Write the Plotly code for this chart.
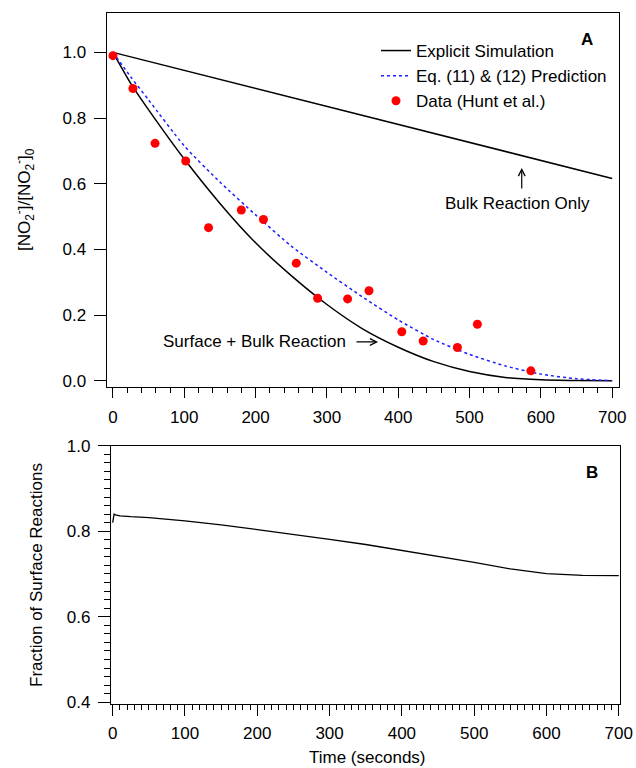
import plotly.graph_objects as go

# ---- Panel A: nitrite decay -------------------------------------------------
# Measured points (Hunt et al.)
data_time = [0, 28, 59, 102, 134, 180, 211, 257, 287, 329, 359, 405, 435, 483, 511, 586]
data_ratio = [0.99, 0.89, 0.723, 0.669, 0.466, 0.520, 0.491, 0.358, 0.251, 0.249,
              0.274, 0.149, 0.121, 0.101, 0.172, 0.030]

# Explicit simulation, surface + bulk reaction, and the Eq. (11)/(12) prediction
sim_time = [0, 25, 50, 100, 150, 200, 250, 300, 350, 400, 450, 500, 550, 600, 650, 700]
sim_surface_bulk = [1.0, 0.905, 0.825, 0.675, 0.54, 0.42, 0.32, 0.232, 0.158, 0.102,
                    0.058, 0.028, 0.01, 0.003, 0.0008, 0.0]
eq_prediction = [1.0, 0.925, 0.855, 0.715, 0.605, 0.505, 0.41, 0.33, 0.255, 0.185,
                 0.125, 0.08, 0.045, 0.02, 0.006, 0.0]

# Explicit simulation, bulk reaction only
bulk_time = [0, 100, 200, 300, 400, 500, 600, 700]
bulk_only = [1.0, 0.945, 0.890, 0.835, 0.780, 0.725, 0.670, 0.616]

# ---- Panel B: fraction of reactions occurring at the surface ---------------
frac_time = [0, 2, 4, 10, 25, 50, 100, 150, 200, 250, 300, 350, 400, 450, 500,
             550, 600, 650, 700]
surface_fraction = [0.82, 0.84, 0.838, 0.836, 0.834, 0.832, 0.824, 0.815, 0.804,
                    0.793, 0.781, 0.769, 0.755, 0.742, 0.727, 0.712, 0.701, 0.697, 0.696]

major_ticks = [0, 100, 200, 300, 400, 500, 600, 700]
half_ticks = [50, 150, 250, 350, 450, 550, 650]

W, H = 636, 768
FONT = "Arial, Liberation Sans, sans-serif"


def fx(p):
    return p / W


def fy(p):
    return 1 - p / H


fig = go.Figure()

fig.add_trace(go.Scatter(x=bulk_time, y=bulk_only, mode="lines",
                         line=dict(color="black", width=1.5),
                         showlegend=False, xaxis="x", yaxis="y"))
fig.add_trace(go.Scatter(x=sim_time, y=sim_surface_bulk, mode="lines",
                         line=dict(color="black", width=1.5, shape="spline", smoothing=0.6),
                         name="Explicit Simulation", xaxis="x", yaxis="y"))
fig.add_trace(go.Scatter(x=sim_time, y=eq_prediction, mode="lines",
                         line=dict(color="#1f1fff", width=1.5, dash="dot",
                                   shape="spline", smoothing=0.6),
                         name="Eq. (11) & (12) Prediction", xaxis="x", yaxis="y"))
fig.add_trace(go.Scatter(x=data_time, y=data_ratio, mode="markers",
                         marker=dict(color="#ff0000", size=9),
                         name="Data (Hunt et al.)", xaxis="x", yaxis="y"))
fig.add_trace(go.Scatter(x=frac_time, y=surface_fraction, mode="lines",
                         line=dict(color="black", width=1.3),
                         showlegend=False, xaxis="x2", yaxis="y2"))

axis_common = dict(
    showline=True, linecolor="black", linewidth=1.3, mirror=True,
    ticks="outside", tickcolor="black", tickwidth=1.2,
    showgrid=False, zeroline=False, automargin=False,
    ticklabeloverflow="allow",
    tickfont=dict(family=FONT, size=17, color="black"),
)

bottom_domain = [fx(111), fx(619.5)]
bottom_range = [-2.3, 701]

fig.update_layout(
    template="none",
    width=W, height=H,
    margin=dict(l=0, r=0, t=0, b=0, pad=0),
    paper_bgcolor="white", plot_bgcolor="white",
    font=dict(family=FONT, size=17, color="black"),
    xaxis=dict(axis_common, domain=[fx(106.7), fx(619.3)], range=[-8.8, 710],
               anchor="y", tickvals=major_ticks, ticklen=10, ticklabelstandoff=5,
               minor=dict(dtick=20, ticklen=5, ticks="outside", tickcolor="black",
                          tickwidth=1.2, showgrid=False)),
    yaxis=dict(axis_common, domain=[fy(386.7), fy(13.3)], range=[-0.0183, 1.119],
               anchor="x", dtick=0.2, tick0=0, tickformat=".1f", ticklen=12,
               ticklabelstandoff=4),
    xaxis2=dict(axis_common, domain=bottom_domain, range=bottom_range,
                anchor="y2", tickvals=major_ticks, ticklen=11, ticklabelstandoff=2,
                minor=dict(dtick=10, ticklen=5, ticks="outside", tickcolor="black",
                           tickwidth=1.2, showgrid=False)),
    # mid-length ticks at the half-hundreds of the lower time axis
    xaxis3=dict(domain=bottom_domain, range=bottom_range, anchor="y2",
                overlaying="x2", side="bottom", tickvals=half_ticks, ticks="outside",
                ticklen=8, tickwidth=1.2, tickcolor="black", showticklabels=False,
                showline=False, showgrid=False, zeroline=False, automargin=False),
    yaxis2=dict(axis_common, domain=[fy(704), fy(445.7)], range=[0.396, 1.0],
                anchor="x2", dtick=0.2, tick0=0, tickformat=".1f", ticklen=12,
                ticklabelstandoff=4,
                minor=dict(dtick=0.02, ticklen=6, ticks="outside", tickcolor="black",
                           tickwidth=1.2, showgrid=False)),
    legend=dict(x=fx(376), y=fy(33), xanchor="left", yanchor="top",
                bgcolor="rgba(0,0,0,0)", borderwidth=0,
                font=dict(family=FONT, size=17, color="black"),
                itemwidth=30, tracegroupgap=0),
)

mid = dict(xanchor="center", yanchor="middle", showarrow=False, font=dict(size=17))
annotations = [
    dict(mid, text="[NO<sub>2</sub><sup>-</sup>]/[NO<sub>2</sub><sup>-</sup>]<sub>0</sub>",
         xref="paper", yref="paper", x=fx(24), y=fy(200), textangle=-90),
    dict(mid, text="Fraction of Surface Reactions", xref="paper", yref="paper",
         x=fx(36), y=fy(575), textangle=-90),
    dict(mid, text="Time (seconds)", xref="paper", yref="paper", x=fx(367), y=fy(757)),
    dict(mid, text="<b>A</b>", xref="paper", yref="paper", x=fx(586.7), y=fy(39.3)),
    dict(mid, text="<b>B</b>", xref="paper", yref="paper", x=fx(592), y=fy(472)),
    dict(mid, text="Surface + Bulk Reaction", xref="x", yref="y", x=197.8, y=0.118),
    dict(text="", xref="x", yref="y", x=371.7, y=0.118, axref="x", ayref="y",
         ax=339.4, ay=0.118, showarrow=True, arrowhead=5, arrowsize=1.1,
         arrowwidth=1.2, arrowcolor="black"),
    dict(mid, text="Bulk Reaction Only", xref="x", yref="y", x=566.6, y=0.540),
    dict(text="", xref="x", yref="y", x=573.2, y=0.648, axref="x", ayref="y",
         ax=573.2, ay=0.581, showarrow=True, arrowhead=5, arrowsize=1.1,
         arrowwidth=1.2, arrowcolor="black"),
]
fig.update_layout(annotations=annotations)

fig.write_html("out.html")
